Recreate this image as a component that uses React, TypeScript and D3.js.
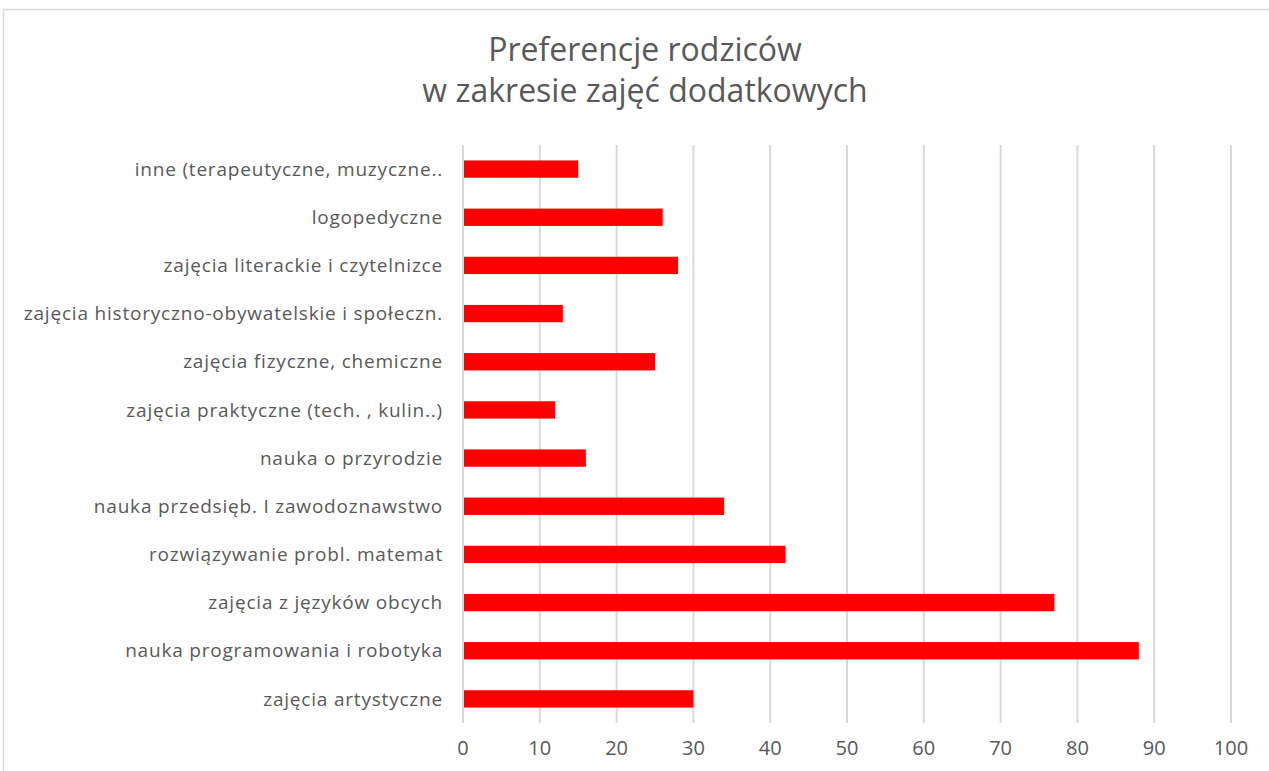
import React, { useEffect, useRef } from 'react';
import * as d3 from 'd3';

// categories listed top to bottom as they appear
const categories = [
  'inne (terapeutyczne, muzyczne..',
  'logopedyczne',
  'zajęcia literackie i czytelnizce',
  'zajęcia historyczno-obywatelskie i społeczn.',
  'zajęcia fizyczne, chemiczne',
  'zajęcia praktyczne (tech. , kulin..)',
  'nauka o przyrodzie',
  'nauka przedsięb. I zawodoznawstwo',
  'rozwiązywanie probl. matemat',
  'zajęcia z języków obcych',
  'nauka programowania i robotyka',
  'zajęcia artystyczne',
];
const values = [15, 26, 28, 13, 25, 12, 16, 34, 42, 77, 88, 30];
const xTicks = [0, 10, 20, 30, 40, 50, 60, 70, 80, 90, 100];
const titleLines = ['Preferencje rodziców', 'w zakresie zajęć dodatkowych'];

const width = 1269;
const height = 771;
const FONT = "'Open Sans', 'DejaVu Sans', sans-serif";

const App = () => {
  const svgRef = useRef<SVGSVGElement>(null);

  useEffect(() => {
    const svg = d3.select(svgRef.current);
    svg.selectAll('*').remove();

    const margin = { top: 145, right: 38, bottom: 48, left: 463 };
    const innerWidth = width - margin.left - margin.right;
    const innerHeight = height - margin.top - margin.bottom;

    // chart frame
    svg.append('rect')
      .attr('x', 3.5)
      .attr('y', 9.5)
      .attr('width', width + 20)
      .attr('height', height + 20)
      .attr('fill', 'white')
      .attr('stroke', '#d9d9d9')
      .attr('stroke-width', 1.5);

    const x = d3.scaleLinear().domain([0, 100]).range([0, innerWidth]);
    const y = d3.scaleBand().domain(categories).range([0, innerHeight]).paddingInner(0.64).paddingOuter(0.32);

    const g = svg.append('g').attr('transform', `translate(${margin.left}, ${margin.top})`);

    // vertical gridlines
    g.selectAll('.grid')
      .data(xTicks)
      .enter()
      .append('line')
      .attr('x1', d => x(d))
      .attr('x2', d => x(d))
      .attr('y1', 0)
      .attr('y2', innerHeight)
      .attr('stroke', '#d9d9d9')
      .attr('stroke-width', 2);

    // bars
    g.selectAll('.bar')
      .data(values)
      .enter()
      .append('rect')
      .attr('x', x(0) + 1)
      .attr('y', (d, i) => y(categories[i]))
      .attr('width', d => x(d) - 1)
      .attr('height', y.bandwidth())
      .attr('fill', '#ff0000');

    // category labels
    g.selectAll('.label')
      .data(categories)
      .enter()
      .append('text')
      .attr('x', -20)
      .attr('y', d => y(d) + y.bandwidth() / 2)
      .attr('dy', '0.35em')
      .attr('text-anchor', 'end')
      .attr('font-family', FONT)
      .attr('font-size', 19)
      .attr('letter-spacing', 0.8)
      .attr('fill', '#595959')
      .text(d => d);

    // x tick labels
    g.selectAll('.tick')
      .data(xTicks)
      .enter()
      .append('text')
      .attr('x', d => x(d))
      .attr('y', innerHeight + 32)
      .attr('text-anchor', 'middle')
      .attr('font-family', FONT)
      .attr('font-size', 20)
      .attr('fill', '#595959')
      .text(d => d);

    // title
    svg.append('text')
      .attr('x', 645)
      .attr('y', 61)
      .attr('text-anchor', 'middle')
      .attr('font-family', FONT)
      .attr('font-size', 32)
      .attr('fill', '#595959')
      .selectAll('tspan')
      .data(titleLines)
      .enter()
      .append('tspan')
      .attr('x', 645)
      .attr('dy', (d, i) => (i === 0 ? 0 : 41))
      .text(d => d);
  }, []);

  return (
    <svg
      ref={svgRef}
      width={width}
      height={height}
      style={{ position: 'absolute', left: 0, top: 0, display: 'block' }}
    />
  );
};

export default App;
